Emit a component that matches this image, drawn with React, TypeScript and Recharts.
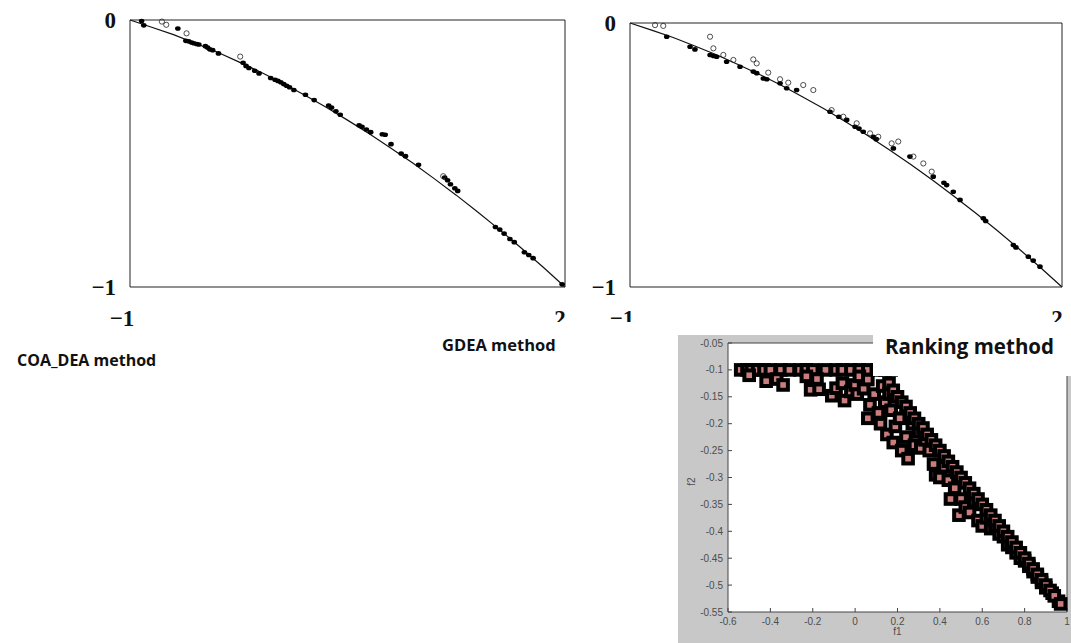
import React from 'react';
import { ComposedChart, ScatterChart, Scatter, Line, XAxis, YAxis, CartesianGrid } from 'recharts';

// curve drawn in both upper panels
const frontier = [
  [-1, 0], [-0.85, -0.027], [-0.7, -0.055], [-0.55, -0.087], [-0.4, -0.12], [-0.25, -0.157],
  [-0.1, -0.195], [0.05, -0.236], [0.2, -0.28], [0.35, -0.326], [0.5, -0.375], [0.65, -0.426],
  [0.8, -0.48], [0.95, -0.536], [1.1, -0.595], [1.25, -0.656], [1.4, -0.72], [1.55, -0.786],
  [1.7, -0.855], [1.85, -0.926], [2, -1],
];

// COA_DEA method: filled / open points
const coaFilled = [
  [-0.92, -0.004], [-0.905, -0.02], [-0.67, -0.032], [-0.615, -0.078], [-0.595, -0.08],
  [-0.575, -0.084], [-0.56, -0.087], [-0.54, -0.09], [-0.525, -0.092], [-0.48, -0.098],
  [-0.465, -0.103], [-0.45, -0.11], [-0.43, -0.113], [-0.39, -0.125], [-0.22, -0.16],
  [-0.2, -0.172], [-0.18, -0.18], [-0.14, -0.19], [-0.11, -0.2], [-0.03, -0.217], [0.0, -0.224],
  [0.02, -0.228], [0.04, -0.233], [0.06, -0.24], [0.08, -0.246], [0.1, -0.252], [0.13, -0.262],
  [0.21, -0.28], [0.27, -0.3], [0.37, -0.32], [0.39, -0.328], [0.42, -0.342], [0.45, -0.355],
  [0.58, -0.394], [0.6, -0.4], [0.63, -0.41], [0.66, -0.42], [0.74, -0.428], [0.76, -0.43],
  [0.8, -0.465], [0.87, -0.5], [0.9, -0.51], [0.99, -0.542], [1.17, -0.59], [1.19, -0.6],
  [1.21, -0.615], [1.24, -0.63], [1.26, -0.64], [1.52, -0.775], [1.55, -0.785], [1.58, -0.8],
  [1.62, -0.82], [1.65, -0.832], [1.72, -0.87], [1.75, -0.88], [1.78, -0.892], [1.98, -0.99],
];
const coaOpen = [
  [-0.78, -0.006], [-0.75, -0.018], [-0.61, -0.05], [-0.24, -0.137], [1.16, -0.585],
];

// GDEA method: filled / open points
const gdeaFilled = [
  [-0.745, -0.052], [-0.583, -0.09], [-0.549, -0.1], [-0.444, -0.121], [-0.42, -0.125],
  [-0.398, -0.128], [-0.329, -0.147], [-0.236, -0.166], [-0.144, -0.184], [-0.12, -0.19],
  [-0.074, -0.21], [-0.05, -0.213], [0.042, -0.228], [0.088, -0.247], [0.157, -0.254],
  [0.389, -0.336], [0.45, -0.355], [0.505, -0.367], [0.563, -0.393], [0.59, -0.4], [0.62, -0.412],
  [0.69, -0.431], [0.71, -0.44], [0.829, -0.475], [0.944, -0.506], [1.106, -0.582],
  [1.18, -0.605], [1.199, -0.614], [1.245, -0.639], [1.292, -0.67], [1.454, -0.74],
  [1.47, -0.75], [1.662, -0.841], [1.68, -0.85], [1.766, -0.885], [1.8, -0.9], [1.847, -0.923],
];
const gdeaOpen = [
  [-0.826, -0.008], [-0.769, -0.011], [-0.444, -0.052], [-0.421, -0.096], [-0.352, -0.121],
  [-0.282, -0.14], [-0.144, -0.138], [-0.12, -0.153], [-0.04, -0.188], [0.042, -0.213],
  [0.099, -0.226], [0.203, -0.235], [0.273, -0.254], [0.4, -0.33], [0.481, -0.355],
  [0.574, -0.38], [0.667, -0.418], [0.724, -0.431], [0.817, -0.456], [0.863, -0.449],
  [0.968, -0.506], [1.037, -0.532], [1.095, -0.563],
];

// Ranking method: f1 / f2 points
const rankPoints = [
  [-0.54, -0.1], [-0.51, -0.1], [-0.49, -0.1], [-0.46, -0.1], [-0.43, -0.1], [-0.4, -0.1],
  [-0.35, -0.1], [-0.31, -0.1], [-0.26, -0.1], [-0.23, -0.1], [-0.2, -0.1], [-0.14, -0.1],
  [-0.09, -0.1], [-0.06, -0.1], [-0.02, -0.1], [0.02, -0.1], [0.06, -0.1], [0.1, -0.1],
  [0.14, -0.1], [0.17, -0.1],
  [-0.5, -0.11], [-0.42, -0.121], [-0.37, -0.117], [-0.34, -0.128], [-0.23, -0.112],
  [-0.18, -0.117], [-0.21, -0.137], [-0.17, -0.136], [-0.11, -0.148], [-0.09, -0.134],
  [-0.06, -0.125], [-0.05, -0.157], [-0.02, -0.14], [0.0, -0.128], [0.01, -0.145],
  [0.02, -0.112], [0.04, -0.135], [0.06, -0.118], [0.07, -0.165], [0.06, -0.19], [0.09, -0.145],
  [0.11, -0.18], [0.12, -0.2], [0.13, -0.13], [0.14, -0.16], [0.16, -0.145], [0.15, -0.22],
  [0.17, -0.175], [0.18, -0.235], [0.19, -0.205], [0.21, -0.19], [0.22, -0.25], [0.24, -0.225],
  [0.25, -0.265], [0.27, -0.2], [0.28, -0.24], [0.3, -0.215], [0.31, -0.245], [0.33, -0.23],
  [0.35, -0.25], [0.37, -0.275], [0.38, -0.295], [0.4, -0.3], [0.42, -0.28], [0.44, -0.305],
  [0.45, -0.34], [0.47, -0.32], [0.5, -0.34], [0.49, -0.37], [0.52, -0.355], [0.54, -0.365],
  [0.56, -0.345], [0.58, -0.38], [0.6, -0.39], [0.62, -0.375], [0.64, -0.395], [0.66, -0.39],
  [0.68, -0.405], [0.7, -0.41], [0.72, -0.425], [0.74, -0.43], [0.76, -0.44], [0.78, -0.45],
  [0.8, -0.455], [0.82, -0.465], [0.84, -0.475], [0.86, -0.485], [0.88, -0.495], [0.9, -0.505],
  [0.93, -0.515], [0.96, -0.53],
  [0.16, -0.125], [0.18, -0.138], [0.2, -0.15], [0.22, -0.16], [0.24, -0.168], [0.26, -0.18],
  [0.28, -0.19], [0.3, -0.2], [0.32, -0.208], [0.34, -0.22], [0.36, -0.23], [0.38, -0.24],
  [0.4, -0.25], [0.42, -0.26], [0.44, -0.27], [0.46, -0.28], [0.48, -0.29], [0.5, -0.3],
  [0.52, -0.31], [0.54, -0.32], [0.56, -0.33], [0.58, -0.34], [0.6, -0.35], [0.62, -0.36],
  [0.64, -0.37], [0.66, -0.38], [0.68, -0.39], [0.7, -0.4], [0.72, -0.41], [0.74, -0.42],
  [0.76, -0.43], [0.78, -0.44], [0.8, -0.45], [0.82, -0.46], [0.84, -0.47], [0.86, -0.48],
  [0.88, -0.49], [0.9, -0.5], [0.92, -0.51], [0.94, -0.52], [0.97, -0.535],
];
const f1Ticks = [-0.6, -0.4, -0.2, 0, 0.2, 0.4, 0.6, 0.8, 1];
const f2Ticks = [-0.55, -0.5, -0.45, -0.4, -0.35, -0.3, -0.25, -0.2, -0.15, -0.1, -0.05];

const pts = (a: number[][]) => a.map(([x, y]) => ({ x, y }));

const serif = { fontFamily: '"Liberation Serif", serif', fontWeight: 700, fontSize: 23, fill: '#111' };
const fmtEnd = (v: number) => (v < 0 ? '\u2212' + Math.abs(v) : String(v));

const YEndTick = ({ x, y, payload }: any) => (
  <text x={x - 14} y={y} textAnchor="end" dominantBaseline="central" style={serif}>{fmtEnd(payload.value)}</text>
);
const XEndTick = ({ x, y, payload }: any) => (
  <text x={x + (payload.value < 0 ? -8 : -5)} y={y + 31} textAnchor="middle" dominantBaseline="central" style={serif}>
    {fmtEnd(payload.value)}
  </text>
);

const Dot = ({ cx, cy }: any) => <ellipse cx={cx} cy={cy} rx={2.8} ry={2.3} fill="#000" />;
const Ring = ({ cx, cy }: any) => <circle cx={cx} cy={cy} r={2.6} fill="none" stroke="#222" strokeWidth={0.8} />;
const Square = ({ cx, cy }: any) => (
  <rect x={cx - 4.8} y={cy - 4.8} width={9.6} height={9.6} fill="#c97d7d" stroke="#000" strokeWidth={4} />
);

const frame = { stroke: '#222', strokeWidth: 1 };

const FrontPanel = ({ left, width, margin, filled, open }: any) => (
  <div style={{ position: 'absolute', left, top: 0 }}>
    <ComposedChart width={width} height={330} margin={margin}>
      <XAxis type="number" dataKey="x" domain={[-1, 2]} ticks={[-1, 2]} height={1} interval={0}
        tickSize={0} tickMargin={0} tickLine={false} axisLine={frame} tick={<XEndTick />} />
      <XAxis xAxisId="top" orientation="top" type="number" domain={[-1, 2]} height={1}
        tick={false} tickLine={false} axisLine={frame} />
      <YAxis type="number" dataKey="y" domain={[-1, 0]} ticks={[-1, 0]} width={1} interval={0}
        tickSize={0} tickMargin={0} tickLine={false} axisLine={frame} tick={<YEndTick />} />
      <YAxis yAxisId="right" orientation="right" type="number" domain={[-1, 0]} width={1}
        tick={false} tickLine={false} axisLine={frame} />
      <Line data={pts(frontier)} dataKey="y" type="linear" dot={false} stroke="#111" strokeWidth={1.2}
        isAnimationActive={false} />
      <Scatter data={pts(filled)} shape={<Dot />} isAnimationActive={false} />
      <Scatter data={pts(open)} shape={<Ring />} isAnimationActive={false} />
    </ComposedChart>
  </div>
);

const label = (text: string, left: number, top: number, size: number, w: number) => (
  <div style={{
    position: 'absolute', left, top, width: w, background: '#fff', fontFamily: '"Open Sans", sans-serif',
    fontWeight: 700, fontSize: size, lineHeight: 1.3, color: '#111', whiteSpace: 'nowrap',
  }}>{text}</div>
);

const matlabTick = { fontFamily: '"Liberation Sans", Arial, sans-serif', fontSize: 10, fill: '#4d4d4d' };
const fmtDec = (v: number) => String(Math.round(v * 100) / 100);

export default function App() {
  return (
    <div style={{ position: 'absolute', left: 0, top: 0, width: 1071, height: 643, background: '#fff', overflow: 'hidden' }}>
      <FrontPanel left={0} width={600} margin={{ top: 19, right: 34, bottom: 42, left: 129 }}
        filled={coaFilled} open={coaOpen} />
      <FrontPanel left={580} width={491} margin={{ top: 22, right: 8, bottom: 42, left: 49 }}
        filled={gdeaFilled} open={gdeaOpen} />

      {/* white strip that cuts the lower tick labels */}
      <div style={{ position: 'absolute', left: 145, top: 322, width: 926, height: 13, background: '#fff' }} />

      <div style={{ position: 'absolute', left: 678, top: 335, width: 393, height: 308, background: '#c8c8c8' }}>
        <ScatterChart width={393} height={308} margin={{ top: 7, right: 3, bottom: 30, left: 49 }}>
          <CartesianGrid fill="#fff" horizontal={false} vertical={false} />
          <XAxis type="number" dataKey="x" domain={[-0.6, 1]} ticks={f1Ticks} interval={0} height={1}
            tickSize={-4} tickMargin={10} tickFormatter={fmtDec} tick={matlabTick}
            axisLine={{ stroke: '#444' }} tickLine={{ stroke: '#444' }}
            label={{ value: 'f1', position: 'bottom', offset: 15, style: matlabTick }} />
          <XAxis xAxisId="top" orientation="top" type="number" domain={[-0.6, 1]} height={1}
            tick={false} tickLine={false} axisLine={{ stroke: '#444' }} />
          <YAxis type="number" dataKey="y" domain={[-0.55, -0.05]} ticks={f2Ticks} interval={0} width={1}
            tickSize={-4} tickMargin={9} tickFormatter={fmtDec} tick={matlabTick}
            axisLine={{ stroke: '#444' }} tickLine={{ stroke: '#444' }}
            label={{ value: 'f2', angle: -90, position: 'left', offset: 36, style: matlabTick }} />
          <YAxis yAxisId="right" orientation="right" type="number" domain={[-0.55, -0.05]} width={1}
            tick={false} tickLine={false} axisLine={{ stroke: '#444' }} />
          <Scatter data={pts(rankPoints)} shape={<Square />} isAnimationActive={false} />
        </ScatterChart>
      </div>

      {label('COA_DEA method', 17, 350, 16, 150)}
      {label('GDEA method', 442, 334, 16.5, 120)}
      <div style={{ position: 'absolute', left: 873, top: 330, width: 198, height: 46, background: '#fff' }} />
      {label('Ranking method', 885, 333, 20.5, 175)}
    </div>
  );
}
